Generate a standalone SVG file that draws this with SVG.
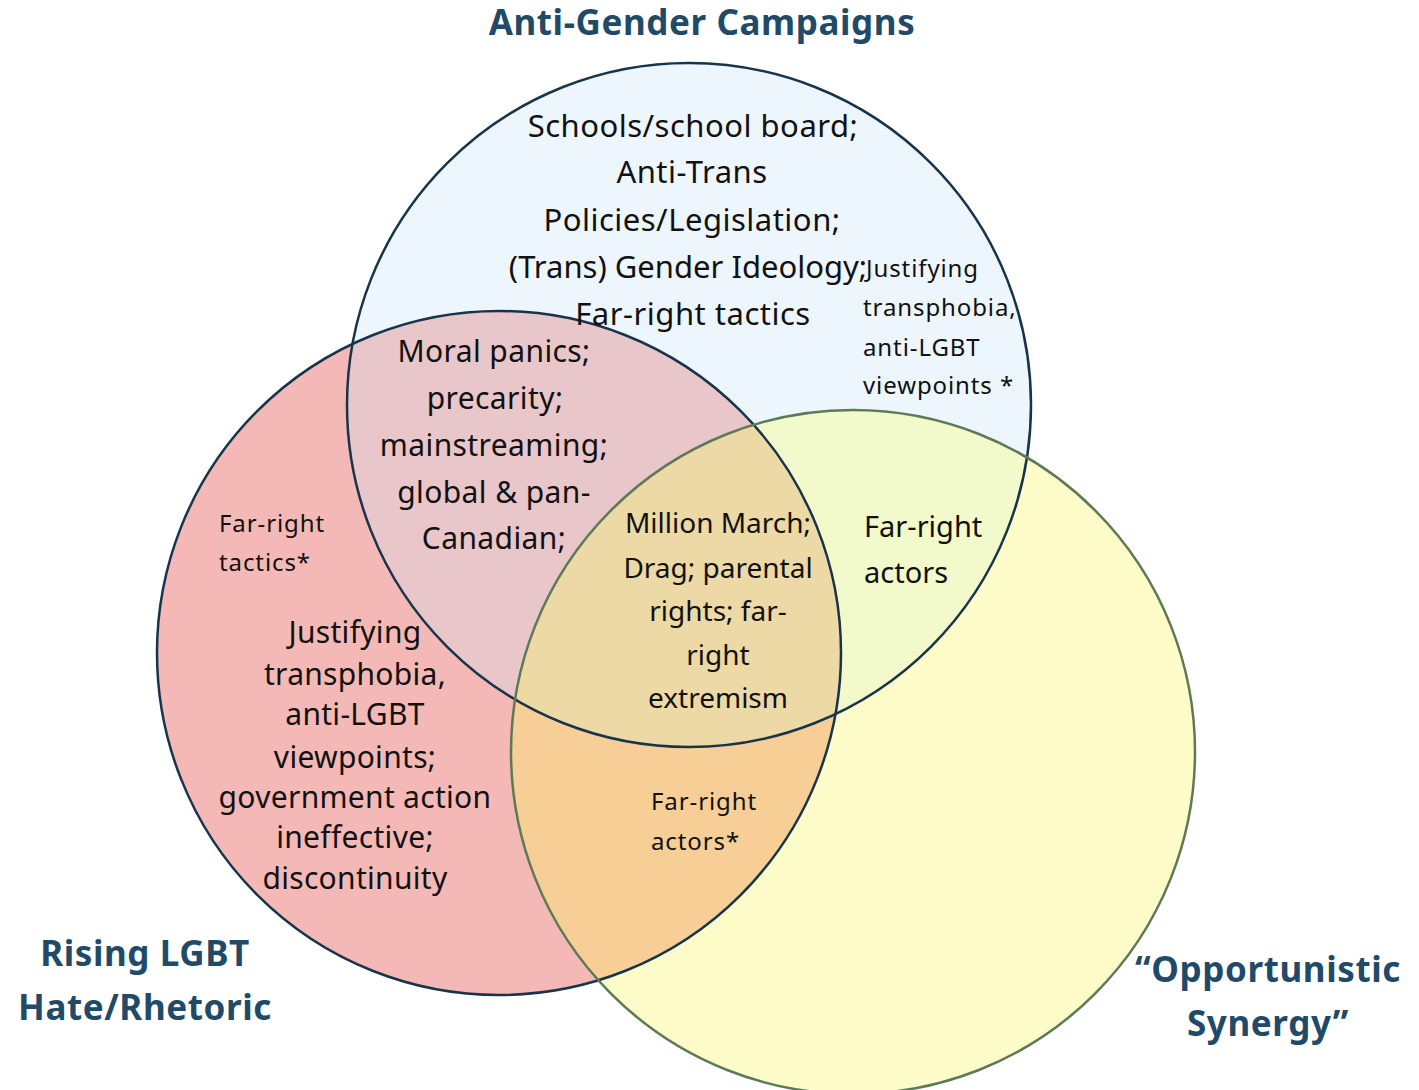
<svg xmlns="http://www.w3.org/2000/svg" width="1419" height="1090" viewBox="0 0 1419 1090">
<style>
.t{font-family:"Noto Sans","Open Sans",sans-serif;fill:#111;text-anchor:middle}
.b{font-size:28px}
.s{font-size:24px;letter-spacing:0.9px;text-anchor:start}
.h{font-family:"Noto Sans","Open Sans",sans-serif;font-weight:bold;fill:#1F4A68;text-anchor:middle;font-size:35px;letter-spacing:0.6px}
.nv{fill:none;stroke:#17344C;stroke-width:2.5}
.gr{fill:none;stroke:#5C7A55;stroke-width:2.5}
</style>
<defs>
<clipPath id="cB"><circle cx="689" cy="405" r="342"/></clipPath>
<clipPath id="cR"><circle cx="499" cy="653" r="342"/></clipPath>
<clipPath id="cY"><circle cx="853" cy="752" r="342"/></clipPath>
</defs>
<rect width="1419" height="1090" fill="#fff"/>
<g id="fills">
<circle cx="689" cy="405" r="342" fill="#EEF6FD"/>
<circle cx="499" cy="653" r="342" fill="#F4B9B6"/>
<circle cx="853" cy="752" r="342" fill="#FEFDC9"/>
<g clip-path="url(#cB)"><circle cx="499" cy="653" r="342" fill="#E8C6CA"/></g>
<g clip-path="url(#cB)"><circle cx="853" cy="752" r="342" fill="#F2F9CB"/></g>
<g clip-path="url(#cY)"><circle cx="499" cy="653" r="342" fill="#F6CE96"/></g>
<g clip-path="url(#cY)"><g clip-path="url(#cB)"><circle cx="499" cy="653" r="342" fill="#EDD9A6"/></g></g>
</g>
<g id="connectors">
<circle id="circle-anti-gender" cx="689" cy="405" r="342" class="nv"/>
<circle id="circle-rising-hate" cx="499" cy="653" r="342" class="nv"/>
<circle id="circle-synergy" cx="853" cy="752" r="342" class="gr"/>
</g>
<g id="title-anti-gender"><text class="h" x="702" y="35">Anti-Gender Campaigns</text></g>
<g id="title-rising"><text class="h" x="145" y="966">Rising LGBT</text><text class="h" x="145" y="1020">Hate/Rhetoric</text></g>
<g id="title-synergy"><text class="h" x="1268" y="982">“Opportunistic</text><text class="h" x="1268" y="1036">Synergy”</text></g>
<g id="blue-only" class="t" style="font-size:31px;letter-spacing:0.5px">
<text x="693" y="137">Schools/school board;</text>
<text x="692" y="183">Anti-Trans</text>
<text x="692" y="231">Policies/Legislation;</text>
<text x="688" y="278" style="letter-spacing:0px">(Trans) Gender Ideology;</text>
<text x="693" y="325">Far-right tactics</text>
</g>
<g id="blue-only-small" class="t s">
<text x="866" y="277">Justifying</text>
<text x="863" y="316">transphobia,</text>
<text x="863" y="356">anti-LGBT</text>
<text x="863" y="394">viewpoints *</text>
</g>
<g id="red-blue" class="t" style="font-size:30px;letter-spacing:0.4px">
<text x="494" y="362">Moral panics;</text>
<text x="495" y="409">precarity;</text>
<text x="494" y="456">mainstreaming;</text>
<text x="494" y="503">global &amp; pan-</text>
<text x="494" y="549">Canadian;</text>
</g>
<g id="red-only-small" class="t s">
<text x="219" y="532">Far-right</text>
<text x="219" y="571">tactics*</text>
</g>
<g id="red-only" class="t" style="font-size:30px;letter-spacing:0.3px">
<text x="355" y="643">Justifying</text>
<text x="355" y="685">transphobia,</text>
<text x="355" y="725">anti-LGBT</text>
<text x="355" y="768">viewpoints;</text>
<text x="355" y="808">government action</text>
<text x="355" y="848">ineffective;</text>
<text x="355" y="889">discontinuity</text>
</g>
<g id="center" class="t b">
<text x="718" y="533">Million March;</text>
<text x="718" y="578">Drag; parental</text>
<text x="718" y="621">rights; far-</text>
<text x="718" y="665">right</text>
<text x="718" y="708">extremism</text>
</g>
<g id="blue-yellow" class="t" style="text-anchor:start;font-size:29px">
<text x="864" y="537">Far-right</text>
<text x="864" y="583">actors</text>
</g>
<g id="red-yellow" class="t s">
<text x="651" y="810">Far-right</text>
<text x="651" y="850">actors*</text>
</g>
</svg>
